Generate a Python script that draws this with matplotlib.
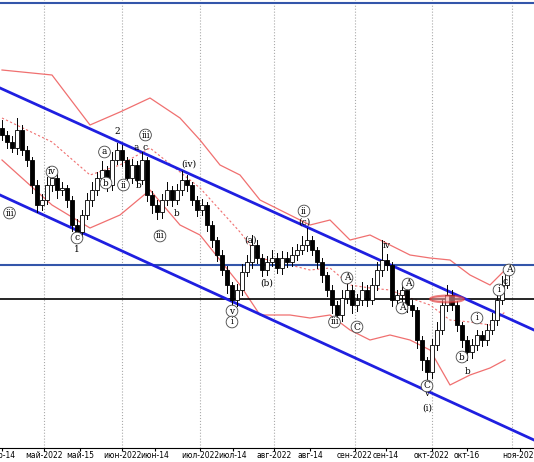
import matplotlib.pyplot as plt
from matplotlib.patches import Circle, Rectangle

# price scale is drawn upside down (larger value = lower on chart)
closes = [135, 142, 148, 130, 150, 160, 185, 205, 200, 185, 178, 190, 188, 200, 225, 232,
          215, 200, 190, 178, 170, 185, 160, 150, 160, 178, 165, 180, 160, 195, 205, 212,
          200, 190, 200, 190, 180, 185, 200, 210, 205, 225, 240, 255, 270, 285, 300, 290,
          272, 262, 245, 258, 270, 262, 258, 268, 258, 262, 255, 250, 245, 240, 250, 262,
          275, 290, 305, 315, 298, 290, 305, 300, 290, 300, 285, 270, 260, 265, 300, 295,
          290, 305, 310, 340, 360, 372, 345, 330, 305, 295, 305, 325, 340, 352, 345, 335,
          340, 330, 320, 300, 285, 270]
first_open = 128
wick_up = [8, 4, 6, 12, 5, 4, 3, 5, 6, 8, 10, 4, 6, 3, 4, 6, 5, 7, 8, 6, 9, 4, 8, 7, 5, 3,
           6, 4, 8, 3, 4, 5, 6, 8, 4, 6, 9, 5, 3, 4, 6, 3, 4, 3, 5, 4, 3, 6, 8, 7, 10, 5,
           4, 6, 8, 5, 7, 6, 8, 6, 9, 12, 4, 3, 4, 3, 5, 4, 8, 7, 5, 6, 8, 5, 7, 8, 20, 6,
           3, 5, 7, 4, 5, 3, 4, 3, 6, 8, 6, 10, 5, 4, 3, 4, 6, 5, 4, 6, 7, 8, 9, 6]
wick_dn = [5, 6, 4, 6, 5, 6, 8, 7, 5, 4, 6, 8, 5, 7, 6, 8, 5, 4, 6, 5, 4, 6, 5, 4, 6, 8,
           5, 6, 4, 6, 8, 7, 6, 5, 6, 4, 5, 6, 5, 6, 5, 6, 7, 6, 5, 8, 10, 6, 5, 4, 6, 5,
           6, 5, 4, 5, 6, 5, 4, 5, 4, 6, 5, 6, 7, 6, 8, 7, 6, 5, 8, 6, 5, 6, 4, 5, 6, 5,
           6, 8, 6, 7, 6, 8, 10, 8, 6, 5, 4, 6, 5, 6, 7, 8, 6, 5, 6, 5, 4, 5, 4, 3]

band_x = [0, 10, 17.6, 23.6, 29.6, 35.6, 39.6, 43.6, 47.6, 51.6, 57.6, 61.6, 65.6, 69.6,
          73.6, 77.6, 81.6, 85.6, 89.6, 93.6, 97.6, 100.6]
band_upper = [70, 75, 125, 112, 98, 118, 140, 165, 175, 200, 215, 225, 220, 240, 235,
              245, 255, 258, 260, 275, 285, 270]
band_lower = [160, 205, 228, 215, 190, 225, 235, 260, 285, 315, 315, 318, 315, 330, 340,
              335, 340, 350, 385, 375, 368, 360]
band_mid = [118, 142, 175, 165, 148, 172, 188, 210, 232, 258, 265, 270, 268, 285, 288,
            290, 298, 305, 320, 322, 325, 312]

tick_pos = [0, 8.4, 15.6, 24, 30.6, 39.6, 46.2, 54.4, 61.6, 70.6, 76.8, 86, 93, 103.6]
tick_labels = ["апр-14", "май-2022", "май-15", "июн-2022", "июн-14", "июл-2022", "июл-14",
               "авг-2022", "авг-14", "сен-2022", "сен-14", "окт-2022", "окт-16", "ноя-2022"]
month_starts = [8.4, 24, 39.6, 54.4, 70.6, 86, 102]

wave_labels = [(1.5, "iii", 213, True), (10, "iv", 172, True), (15, "c", 238, True),
               (15, "1", 250, False), (20.5, "a", 152, True), (20.8, "b", 183, True),
               (23, "2", 131, False), (24.3, "ii", 185, True), (28.7, "iii", 135, True),
               (28.6, "c", 147, False), (26.8, "a", 147, False), (27.4, "b", 186, False),
               (31.6, "iii", 236, True), (37.4, "(iv)", 164, False), (35, "b", 214, False),
               (49.8, "(a)", 240, False), (53, "(b)", 283, False), (46, "v", 311, True),
               (46, "i", 322, True), (60.4, "ii", 211, True), (60.4, "(c)", 222, False),
               (66.5, "iii", 322, True), (69, "A", 278, True), (71, "C", 327, True),
               (77, "iv", 245, False), (80, "A", 308, True), (81.2, "A", 284, True),
               (85, "v", 394, False), (85, "C", 386, True), (85, "(i)", 408, False),
               (93.2, "b", 372, False), (92, "b", 357, True), (95, "i", 318, True),
               (100.6, "c", 282, False), (101.4, "A", 270, True), (99.4, "i", 290, True)]

fig = plt.figure(figsize=(5.34, 4.62), dpi=100)
ax = fig.add_axes([0, 14 / 462, 1, 448 / 462])
ax.set_xlim(-0.4, 106.4)
ax.set_ylim(448, 0)

for x in month_starts:
    ax.axvline(x, color="#aaaaaa", linestyle=":", linewidth=0.8, zorder=0)

ax.plot(band_x, band_upper, color="#f07070", linewidth=0.9)
ax.plot(band_x, band_lower, color="#f07070", linewidth=0.9)
ax.plot(band_x, band_mid, color="#f07070", linewidth=0.8, linestyle=(0, (2, 2)))

ax.axhline(3, color="#3355aa", linewidth=1.5)
ax.axhline(265, color="#3355aa", linewidth=1.5)
ax.axhline(299, color="black", linewidth=1.2)
ax.plot([-0.4, 106.4], [88, 330], color="#1f1fe0", linewidth=2)
ax.plot([-0.4, 106.4], [195, 440], color="#1f1fe0", linewidth=2)

opens = [first_open] + closes[:-1]
for i, (o, c) in enumerate(zip(opens, closes)):
    top, bot = min(o, c), max(o, c)
    ax.plot([i, i], [top - wick_up[i], bot + wick_dn[i]], color="black", linewidth=0.7, zorder=3)
    face = "white" if c < o else "black"
    ax.add_patch(Rectangle((i - 0.35, top), 0.7, max(bot - top, 1), facecolor=face,
                           edgecolor="black", linewidth=0.6, zorder=4))

ax.add_patch(Circle((89, 299), 3.4, facecolor="#f4a0a0", edgecolor="#e03030",
                    alpha=0.6, linewidth=1.5, zorder=5))

for x, s, y, circ in wave_labels:
    bbox = dict(boxstyle="circle,pad=0.15", facecolor="white", edgecolor="#444444",
                linewidth=0.6) if circ else None
    ax.text(x, y, s, fontsize=6.5, ha="center", va="center", family="DejaVu Serif",
            bbox=bbox, zorder=6)

ax.set_xticks(tick_pos)
ax.set_xticklabels(tick_labels, fontsize=5.5)
ax.tick_params(axis="x", length=2, pad=0.5)
ax.set_yticks([])
for side in ["top", "left", "right"]:
    ax.spines[side].set_visible(False)

fig.savefig("out.png", dpi=100)
